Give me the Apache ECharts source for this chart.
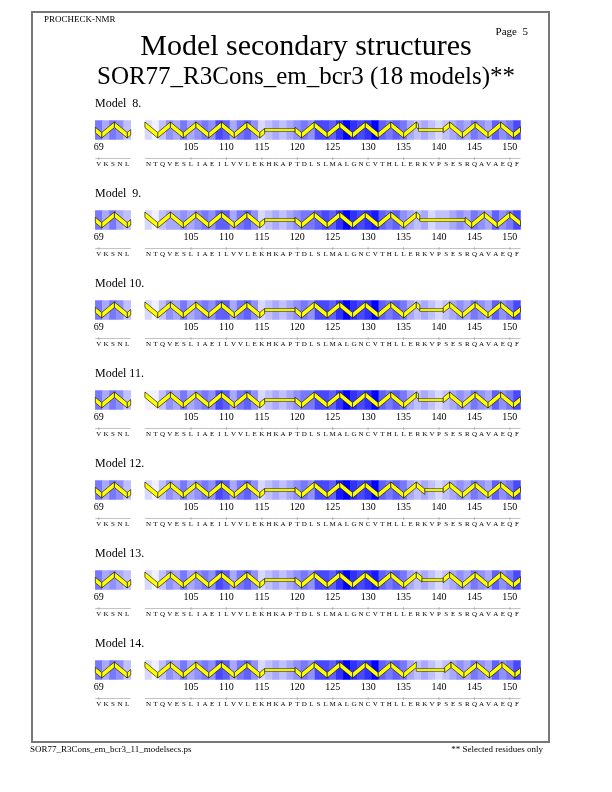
<!DOCTYPE html>
<html><head><meta charset="utf-8">
<script src="https://cdn.jsdelivr.net/npm/echarts@6/dist/echarts.min.js"></script>
<style>html,body{margin:0;padding:0;background:#fff}#c{width:612px;height:792px}</style>
</head><body><div id="c"></div>
<script>
// ---------------- data ----------------
const modelNames = ['Model  8.', 'Model  9.', 'Model 10.', 'Model 11.', 'Model 12.', 'Model 13.', 'Model 14.'];
const residues = [69, 70, 71, 72, 73,
  99, 100, 101, 102, 103, 104, 105, 106, 107, 108, 109, 110, 111, 112, 113, 114, 115, 116, 117, 118, 119, 120,
  121, 122, 123, 124, 125, 126, 127, 128, 129, 130, 131, 132, 133, 134, 135, 136, 137, 138, 139, 140,
  141, 142, 143, 144, 145, 146, 147, 148, 149, 150, 151];
const sequence = ['V','K','S','N','L',
  'N','T','Q','V','E','S','L','I','A','E','I','L','V','V','L','E','K','H','K','A','P','T',
  'D','L','S','L','M','A','L','G','N','C','V','T','H','L','L','E','R','K','V','P',
  'S','E','S','R','Q','A','V','A','E','Q','F'];
const numberLabels = [69, 105, 110, 115, 120, 125, 130, 135, 140, 145, 150];

// per-residue shading (0 = palest, 10 = full blue)
const shade8  = [5,3,5,4,2, 1,0,2,4,3,5,3,4,5,4, 7,6,3,5,6,4,1,2,3,2, 3,4,5,4,7,7,6,8,10,8, 7,8,10,6,5,6,5,3,2,3, 2,1,2,3,4,3,5,4,3,6, 4,5,7];
const shade9  = [5,3,5,3,2, 1,0,2,3,3,4,3,4,5,4, 6,6,3,5,6,4,1,2,3,2, 3,4,5,5,6,7,6,8,10,8, 7,8,9,6,5,6,4,3,2,3, 1,2,2,3,4,3,5,4,3,6, 4,5,7];
const shade10 = [5,3,5,4,2, 1,0,2,4,3,5,3,4,5,4, 6,6,3,5,6,4,1,2,3,2, 3,4,5,4,7,7,6,8,10,8, 7,8,10,6,5,6,5,3,2,3, 2,1,2,3,4,3,5,4,3,6, 4,5,7];
const shade11 = [5,3,5,4,2, 0,0,2,4,3,5,3,4,5,4, 7,6,3,5,6,4,1,2,3,2, 3,4,5,5,7,7,6,8,10,8, 7,8,10,6,5,6,5,3,2,3, 2,1,2,3,4,3,5,4,3,6, 4,5,7];
const shade12 = [5,3,5,4,2, 1,0,2,4,3,5,3,4,5,4, 7,6,3,5,6,4,1,2,3,2, 3,4,5,4,7,7,6,9,10,8, 7,8,10,6,5,6,5,3,2,3, 2,1,2,3,4,3,5,4,3,6, 4,5,7];
const shade13 = [5,3,4,3,2, 1,0,2,4,3,5,3,4,5,4, 7,6,3,5,6,4,1,2,3,2, 3,4,5,4,7,7,6,8,10,8, 7,8,9,6,5,6,5,3,2,3, 2,1,2,3,4,3,5,4,3,6, 4,5,7];
const shade14 = [5,3,5,4,2, 1,0,2,4,3,5,3,4,5,4, 7,6,3,5,6,4,1,2,3,2, 3,4,5,4,7,7,6,8,10,8, 7,8,10,6,5,6,5,3,2,3, 2,1,2,3,4,3,5,4,3,6, 4,5,7];
const shades = [shade8, shade9, shade10, shade11, shade12, shade13, shade14];

// secondary structure: [kind, start, end, first vertex, phase] (residue coordinates)
const ss8  = [['H',68.5,73.5,'bottom',0.5],['H',98.5,115.4,'top',0],['C',115.4,119.7],['H',119.7,137.1,'bottom',0.5],['C',137.1,140.6],['H',140.6,151.5,'top',0.5]];
const ss9  = [['H',68.5,73.5,'bottom',0.5],['H',98.5,115.4,'top',0],['C',115.4,119.7],['H',119.7,137.3,'bottom',0.5],['C',137.3,143.7],['H',143.7,151.5,'bottom',0.5]];
const ss10 = [['H',68.5,73.5,'bottom',0.5],['H',98.5,115.4,'top',0],['C',115.4,119.7],['H',119.7,137.3,'bottom',0.5],['C',137.3,140.6],['H',140.6,151.5,'top',0.5]];
const ss11 = [['H',68.5,73.5,'bottom',0.5],['H',98.5,115.4,'top',0],['C',115.4,119.7],['H',119.7,137.1,'bottom',0.5],['C',137.1,140.6],['H',140.6,151.5,'top',0.5]];
const ss12 = [['H',68.5,73.5,'bottom',0.5],['H',98.5,115.4,'top',0],['C',115.4,119.7],['H',119.7,138.0,'bottom',0.5],['C',138.0,140.6],['H',140.6,151.5,'top',0.5]];
const ss13 = [['H',68.5,73.5,'bottom',0.5],['H',98.5,115.4,'top',0],['C',115.4,119.7],['H',119.7,137.6,'bottom',0.5],['C',137.6,140.6],['H',140.6,151.5,'top',0.5]];
const ss14 = [['H',68.5,73.5,'bottom',0.5],['H',98.5,115.4,'top',0],['C',115.4,119.7],['H',119.7,136.8,'bottom',0.5],['C',136.8,140.8],['H',140.8,151.5,'top',0.5]];
const ssAll = [ss8, ss9, ss10, ss11, ss12, ss13, ss14];

// ---------------- chart ----------------
const FONT = '"Liberation Serif", "Times New Roman", serif';
const chart = echarts.init(document.getElementById('c'), null, {renderer: 'canvas'});

// category slots: block 1, two blank slots, block 2
const categories = [];
residues.forEach((r, i) => {
  if (i > 0 && r - residues[i - 1] > 1) { categories.push('gapA'); categories.push('gapB'); }
  categories.push(String(r));
});
const slotOf = r => categories.indexOf(String(r));
function slotCoord(p) { // fractional residue coordinate -> slot coordinate
  if (p <= 73.5) return p - 69;
  return p - 99 + slotOf(99);
}

const GRID_TOP = 120.5, GRID_STEP = 90, GRID_H = 19, GRID_L = 95.3, GRID_R = 91.5;
const grids = [], xAxes = [], yAxes = [], series = [], graphics = [];
const heatIdx = [];

modelNames.forEach((name, m) => {
  const top = GRID_TOP + GRID_STEP * m;
  grids.push({left: GRID_L, right: GRID_R, top: top, height: GRID_H});
  xAxes.push({
    type: 'category', gridIndex: m, data: categories,
    axisLine: {show: false}, axisTick: {show: false}, splitLine: {show: false},
    axisLabel: {
      interval: (idx, val) => numberLabels.indexOf(Number(val)) >= 0,
      formatter: v => v, color: '#000', fontFamily: FONT, fontSize: 10, margin: 3
    }
  });
  yAxes.push({type: 'category', gridIndex: m, data: ['m'], show: false});

  const heat = residues.map((r, i) => [slotOf(r), 0, shades[m][i]]);
  heatIdx.push(series.length);
  series.push({type: 'heatmap', xAxisIndex: m, yAxisIndex: m, data: heat, silent: true, itemStyle: {borderWidth: 0}});

  // secondary structure ribbons
  const ss = ssAll[m];
  const ssData = ss.map(d => [slotCoord(d[1]), slotCoord(d[2]), d[0] === 'H' ? 1 : 0, d[3] === 'top' ? 1 : -1, d[4] || 0, 0]);
  series.push({
    type: 'custom', xAxisIndex: m, yAxisIndex: m, silent: true, clip: false, z: 5,
    dimensions: ['s', 'e', 'k', 'f', 'p', 'z'], encode: {x: 'z', y: 'z'},
    data: ssData,
    renderItem: (params, api) => {
      const c0 = api.coord([0, 0]), c1 = api.coord([1, 0]);
      const w = c1[0] - c0[0];
      const bh = api.size([1, 1])[1];
      const top = c0[1] - bh / 2, bottom = c0[1] + bh / 2, mid = c0[1];
      const xs = c0[0] + api.value(0) * w, xe = c0[0] + api.value(1) * w;
      const kind = api.value(2);
      const yel = '#ffff00';
      if (kind === 0) {
        return {type: 'rect', shape: {x: xs, y: mid - 1.4, width: xe - xs, height: 2.8},
          style: {fill: yel, stroke: '#000', lineWidth: 0.5}};
      }
      const t = 5.5, hw = 1.8 * w;
      const yT = top + 1.5, yB = bottom - 1.5 - t;
      const first = api.value(3) === 1 ? yT : yB, opp = api.value(3) === 1 ? yB : yT;
      const phi = api.value(4);
      const pts = [[xs, first + (opp - first) * phi]];
      let k = 0;
      while (true) {
        const x = xs + (phi + k) * hw;
        if (x >= xe - 0.01) break;
        if (x > xs + 0.01) pts.push([x, k % 2 === 0 ? first : opp]);
        k++;
      }
      const last = pts[pts.length - 1];
      const nextX = xs + (phi + k) * hw, nextY = k % 2 === 0 ? first : opp;
      const fr = (xe - last[0]) / (nextX - last[0]);
      pts.push([xe, last[1] + (nextY - last[1]) * fr]);
      const up = [], down = [];
      for (let i = 0; i < pts.length - 1; i++) {
        const a = pts[i], b = pts[i + 1];
        const poly = {type: 'polygon', shape: {points: [[a[0], a[1]], [b[0], b[1]], [b[0], b[1] + t], [a[0], a[1] + t]]},
          style: {fill: yel, stroke: '#000', lineWidth: 0.6}};
        (b[1] < a[1] ? up : down).push(poly);
      }
      return {type: 'group', children: up.concat(down)};
    }
  });

  // sequence letters with their base line
  const seqData = residues.map(r => [slotOf(r), 0]);
  series.push({
    type: 'custom', xAxisIndex: m, yAxisIndex: m, silent: true, clip: false,
    encode: {x: 0, y: 1}, data: seqData,
    renderItem: (params, api) => {
      const c = api.coord([api.value(0), 0]);
      const sz = api.size([1, 1]);
      const w = sz[0], bottom = c[1] + sz[1] / 2;
      const ly = bottom + 19;
      const r = residues[params.dataIndex];
      const ch = [
        {type: 'line', shape: {x1: c[0] - w / 2, y1: ly, x2: c[0] + w / 2, y2: ly}, style: {stroke: '#999', lineWidth: 0.6}},
        {type: 'text', style: {text: sequence[params.dataIndex], x: c[0], y: ly + 6, align: 'center', verticalAlign: 'middle',
          font: '7px ' + FONT, fill: '#000'}}
      ];
      if (numberLabels.indexOf(r) >= 0) {
        ch.push({type: 'line', shape: {x1: c[0], y1: ly - 1.5, x2: c[0], y2: ly + 1.5}, style: {stroke: '#999', lineWidth: 0.6}});
      }
      return {type: 'group', children: ch};
    }
  });

  graphics.push({type: 'text', left: 95, top: top - 23, style: {text: name, font: '12px ' + FONT, fill: '#000'}});
});

graphics.push(
  {type: 'rect', shape: {x: 32, y: 12, width: 517, height: 730}, style: {fill: 'none', stroke: '#777', lineWidth: 2}},
  {type: 'text', left: 44, top: 15, style: {text: 'PROCHECK-NMR', font: '9px ' + FONT, fill: '#000'}},
  {type: 'text', right: 84, top: 27, style: {text: 'Page  5', font: '11px ' + FONT, fill: '#000'}},
  {type: 'text', left: 'center', top: 32, style: {text: 'Model secondary structures', font: '30px ' + FONT, fill: '#000'}},
  {type: 'text', left: 'center', top: 65, style: {text: 'SOR77_R3Cons_em_bcr3 (18 models)**', font: '25px ' + FONT, fill: '#000'}},
  {type: 'text', left: 30, top: 745, style: {text: 'SOR77_R3Cons_em_bcr3_11_modelsecs.ps', font: '9px ' + FONT, fill: '#000'}},
  {type: 'text', right: 69, top: 745, style: {text: '** Selected residues only', font: '9px ' + FONT, fill: '#000'}}
);

chart.setOption({
  animation: false,
  backgroundColor: '#fff',
  grid: grids, xAxis: xAxes, yAxis: yAxes,
  visualMap: {show: false, type: 'continuous', min: 0, max: 10, dimension: 2, seriesIndex: heatIdx,
    inRange: {color: ['#f0f0ff', '#0000ff']}},
  series: series,
  graphic: graphics
});
</script></body></html>
